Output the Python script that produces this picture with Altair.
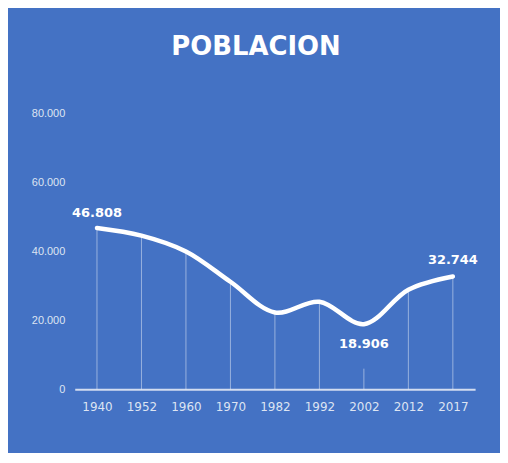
import altair as alt
import pandas as pd

years = ["1940", "1952", "1960", "1970", "1982", "1992", "2002", "2012", "2017"]
population = [46808, 44600, 40000, 31200, 22300, 25400, 18906, 28900, 32744]
rule_top = [46808, 44600, 40000, 31200, 22300, 25400, 6000, 28900, 32744]
label_years = ["1940", "2002", "2017"]
label_dy = [-15, 20, -16]
y_ticks = [0, 20000, 40000, 60000, 80000]

BLUE = "#4472C4"

df = pd.DataFrame({"year": years, "pop": population, "top": rule_top})
lab = pd.DataFrame({
    "year": label_years,
    "pop": [population[years.index(y)] for y in label_years],
    "dy": label_dy,
})
lab["txt"] = [f"{v:,}".replace(",", ".") for v in lab["pop"]]

xenc = alt.X("year:O", sort=years,
             scale=alt.Scale(type="point", padding=0.5),
             axis=alt.Axis(title=None, labelAngle=0, ticks=False, labelPadding=12,
                           labelColor="#dde4f2", labelFont="DejaVu Sans", labelFontSize=12,
                           domainColor="#d3ddf0", domainWidth=2, grid=False))
yscale = alt.Scale(domain=[0, 80000])
yaxis = alt.Axis(title=None, values=y_ticks, grid=False, ticks=False, domain=False,
                 labelPadding=10, labelColor="#dde4f2", labelFont="Liberation Sans",
                 labelFontSize=11,
                 labelExpr="replace(format(datum.value, ','), ',', '.')")

rules = alt.Chart(df).mark_rule(color="white", opacity=0.45, strokeWidth=1).encode(
    x=xenc,
    y=alt.Y("top:Q", scale=yscale, axis=yaxis),
    y2=alt.datum(0),
)

line = alt.Chart(df).mark_line(color="white", strokeWidth=4.5, interpolate="catmull-rom",
                               strokeCap="round").encode(
    x=xenc,
    y=alt.Y("pop:Q", scale=yscale, axis=yaxis),
)

texts = []
for i in range(len(label_years)):
    sub = lab.iloc[[i]]
    texts.append(
        alt.Chart(sub).mark_text(color="white", font="DejaVu Sans", fontWeight="bold",
                                 fontSize=13, baseline="middle", dy=label_dy[i]).encode(
            x=xenc,
            y=alt.Y("pop:Q", scale=yscale, axis=yaxis),
            text="txt:N",
        )
    )

chart = alt.layer(rules, line, *texts).properties(
    width=402,
    height=277,
    background=BLUE,
    padding={"left": 67, "top": 105, "right": 25, "bottom": 63},
    autosize=alt.AutoSizeParams(type="none"),
    title=alt.TitleParams("POBLACION", color="white", font="DejaVu Sans", fontSize=26,
                          fontWeight="bold", anchor="middle", dx=-19, offset=48),
).configure_view(stroke=None)

chart.save("out.html", embed_options={"renderer": "svg", "actions": False})
